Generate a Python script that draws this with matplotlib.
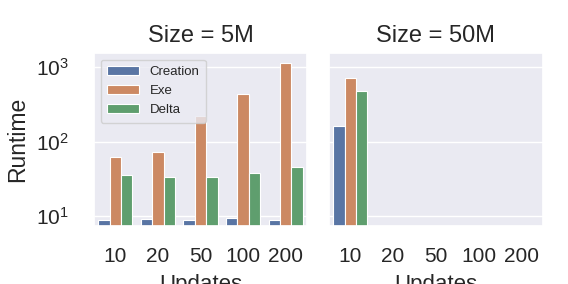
import numpy as np
import matplotlib
matplotlib.use("Agg")
import matplotlib.pyplot as plt
import seaborn as sns

# data (log-scale runtimes)
updates = ["10", "20", "50", "100", "200"]
series = ["Creation", "Exe", "Delta"]
creation_5m = [8.9, 9.2, 9.0, 9.6, 8.9]
exe_5m = [62, 72, 220, 437, 1130]
delta_5m = [36, 34, 33.5, 38, 46]
creation_50m = [163]
exe_50m = [706]
delta_50m = [479]

sns.set_theme(style="darkgrid")
plt.rcParams['font.family'] = ['Liberation Sans', 'DejaVu Sans']
plt.rcParams['mathtext.fontset'] = 'custom'
plt.rcParams['mathtext.rm'] = 'Liberation Sans'
plt.rcParams['mathtext.it'] = 'Liberation Sans:italic'
plt.rcParams['mathtext.bf'] = 'Liberation Sans:bold'

colors = [sns.desaturate(c, 0.75) for c in sns.color_palette("deep", 3)]

fig = plt.figure(figsize=(5.68, 2.84), dpi=100)
ax1 = fig.add_axes([0.1655, 0.2042, 0.375, 0.609])
ax2 = fig.add_axes([0.579, 0.2042, 0.377, 0.609], sharey=ax1)

panels = [
    (ax1, "Size = 5M", [creation_5m, exe_5m, delta_5m]),
    (ax2, "Size = 50M", [creation_50m, exe_50m, delta_50m]),
]

w = 0.8 / 3
for ax, title, vals in panels:
    for i, (name, v) in enumerate(zip(series, vals)):
        x = np.arange(len(v)) + (i - 1) * w
        ax.bar(x, v, width=w, color=colors[i], edgecolor="white",
               linewidth=0.8, label=name)
    ax.set_yscale("log")
    ax.set_xticks(range(len(updates)))
    ax.set_xticklabels(updates)
    ax.set_xlim(-0.5, len(updates) - 0.5)
    ax.set_title(title, fontsize=17, pad=8)
    ax.set_xlabel("Updates", fontsize=16, labelpad=6)
    ax.tick_params(axis="x", labelsize=15, pad=9)
    ax.tick_params(axis="y", labelsize=15, pad=12)
    ax.minorticks_off()
    ax.grid(True, which="major", axis="both")
    ax.grid(False, axis="x")

ax1.set_ylim(7.4, 1537)
ax1.set_yticks([10, 100, 1000])
ax1.set_ylabel("Runtime", fontsize=16.5, labelpad=5)
ax2.tick_params(axis="y", labelleft=False)
ax2.set_ylabel("")

ax1.legend(loc="upper left", fontsize=9.5, frameon=True, handlelength=2.4,
           borderpad=0.5, labelspacing=0.5, bbox_to_anchor=(0.0, 1.0))

fig.savefig("out.png", dpi=100)
